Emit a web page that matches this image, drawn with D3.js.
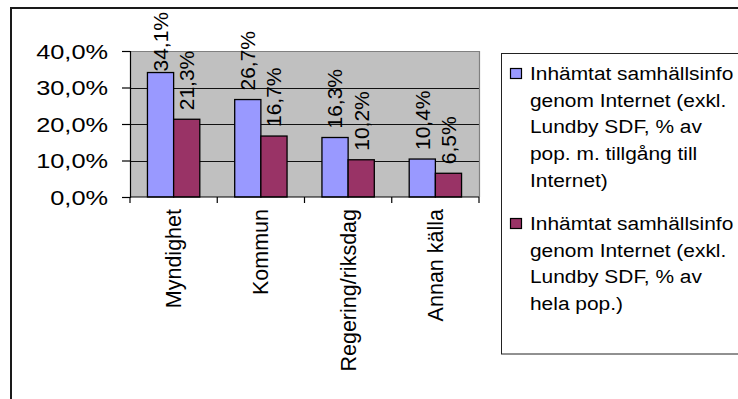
<!DOCTYPE html>
<html>
<head>
<meta charset="utf-8">
<script src="https://cdn.jsdelivr.net/npm/d3@7"></script>
<style>
  html, body { margin: 0; padding: 0; background: #fff; }
  svg { display: block; font-family: "Liberation Sans", Arial, sans-serif; }
</style>
</head>
<body>
<svg id="chart" width="738" height="399"></svg>
<script>
// Källor för samhällsinformation via Internet
const categories = ["Myndighet", "Kommun", "Regering/riksdag", "Annan källa"];
const seriesKeys = ["tillgang", "hela"];
const tillgangValues = [0.341, 0.267, 0.163, 0.104];   // % av pop. m. tillgång till Internet
const helaValues = [0.213, 0.167, 0.102, 0.065];       // % av hela pop.
const seriesColors = ["#9999FF", "#993366"];
const yTicks = [0, 0.1, 0.2, 0.3, 0.4];
const legendLines = [
  ["Inhämtat samhällsinfo", "genom Internet (exkl.", "Lundby SDF, % av", "pop. m. tillgång till", "Internet)"],
  ["Inhämtat samhällsinfo", "genom Internet (exkl.", "Lundby SDF, % av", "hela pop.)"]
];

const seriesValues = [tillgangValues, helaValues];
const sv = d3.formatLocale({ decimal: ",", thousands: " ", grouping: [3], currency: ["", " kr"] });
const pct = sv.format(".1%");

const svg = d3.select("#chart");

// outer chart frame
svg.append("rect")
  .attr("x", 11).attr("y", 8).attr("width", 800).attr("height", 500)
  .attr("fill", "#fff").attr("stroke", "#1a1a1a").attr("stroke-width", 2);

const plot = { left: 130, right: 479, top: 51, bottom: 197 };

const x0 = d3.scaleBand().domain(categories).range([plot.left, plot.right]).padding(0);
const bw = x0.bandwidth();
const x1 = d3.scaleBand().domain(seriesKeys).range([bw * 0.2, bw * 0.8]).padding(0);
const y = d3.scaleLinear().domain([0, 0.4]).range([plot.bottom, plot.top]);

// plot area background
svg.append("rect")
  .attr("x", plot.left).attr("y", plot.top)
  .attr("width", plot.right - plot.left).attr("height", plot.bottom - plot.top)
  .attr("fill", "#C0C0C0");

// horizontal gridlines
svg.append("g").selectAll("line")
  .data(yTicks.filter(t => t > 0 && t < 0.4))
  .join("line")
  .attr("x1", plot.left).attr("x2", plot.right)
  .attr("y1", d => Math.round(y(d)) + 0.5).attr("y2", d => Math.round(y(d)) + 0.5)
  .attr("stroke", "#111").attr("stroke-width", 1);

// plot frame (top / right)
svg.append("path")
  .attr("d", `M${plot.left},${plot.top + 0.5}H${plot.right + 0.5}V${plot.bottom}`)
  .attr("fill", "none").attr("stroke", "#808080").attr("stroke-width", 1.2);

// bars
const groups = svg.append("g").selectAll("g")
  .data(categories)
  .join("g")
  .attr("transform", d => `translate(${x0(d)},0)`);

groups.selectAll("rect")
  .data((d, i) => seriesKeys.map((k, s) => ({ key: k, s, v: seriesValues[s][i] })))
  .join("rect")
  .attr("x", d => x1(d.key))
  .attr("width", x1.bandwidth())
  .attr("y", d => y(d.v))
  .attr("height", d => y(0) - y(d.v))
  .attr("fill", d => seriesColors[d.s])
  .attr("stroke", "#000").attr("stroke-width", 1.3);

// value labels, rotated, above each bar
groups.selectAll("text.val")
  .data((d, i) => seriesKeys.map((k, s) => ({ key: k, s, v: seriesValues[s][i] })))
  .join("text")
  .attr("class", "val")
  .attr("font-size", 21)
  .attr("fill", "#000")
  .attr("dy", "0.35em")
  .text(d => pct(d.v))
  .each(function (d) {
    const len = this.getComputedTextLength();
    const cx = x1(d.key) + x1.bandwidth() / 2;
    const start = Math.max(y(d.v) - 9, 12 + len);
    d3.select(this).attr("transform", `translate(${cx},${start}) rotate(-90)`);
  });

// y axis
const yAxis = svg.append("g")
  .attr("transform", `translate(${plot.left},0)`)
  .call(d3.axisLeft(y).tickValues(yTicks).tickFormat(pct).tickSize(8).tickPadding(14));
yAxis.select(".domain").attr("stroke", "#000").attr("stroke-width", 1.2);
yAxis.selectAll(".tick line").attr("stroke", "#000").attr("stroke-width", 1.2);
yAxis.selectAll(".tick text")
  .attr("x", 0).attr("dy", "0.36em")
  .attr("transform", "translate(-22,0) scale(1.23,1)")
  .attr("font-size", 20.6).attr("font-family", "Liberation Sans, Arial, sans-serif")
  .attr("fill", "#000");

// x axis with ticks at category boundaries
const xAxis = svg.append("g").attr("transform", `translate(0,${plot.bottom})`);
xAxis.append("line")
  .attr("x1", plot.left).attr("x2", plot.right)
  .attr("stroke", "#000").attr("stroke-width", 1.2);
xAxis.selectAll("line.tk")
  .data(categories.map(c => x0(c)).concat([plot.right]))
  .join("line")
  .attr("class", "tk")
  .attr("x1", d => d).attr("x2", d => d)
  .attr("y1", 0).attr("y2", 6)
  .attr("stroke", "#000").attr("stroke-width", 1.2);
xAxis.selectAll("text")
  .data(categories)
  .join("text")
  .attr("font-size", 21.5)
  .attr("text-anchor", "end")
  .attr("dy", "0.35em")
  .attr("fill", "#000")
  .attr("transform", d => `translate(${x0(d) + bw / 2},12) rotate(-90)`)
  .text(d => d);

// legend
const legend = svg.append("g");
legend.append("rect")
  .attr("x", 501.5).attr("y", 53.5).attr("width", 300).attr("height", 300.5)
  .attr("fill", "#fff").attr("stroke", "#222").attr("stroke-width", 1);

const entryTop = [80, 230];
const lineH = 26.7;
legendLines.forEach((lines, s) => {
  legend.append("rect")
    .attr("x", 510.5).attr("y", entryTop[s] - 11.5)
    .attr("width", 11).attr("height", 10)
    .attr("fill", seriesColors[s]).attr("stroke", "#000").attr("stroke-width", 1.2);
  const t = legend.append("g")
    .attr("transform", `translate(530,${entryTop[s]}) scale(1.1,1)`);
  t.selectAll("text")
    .data(lines)
    .join("text")
    .attr("x", 0).attr("y", (d, i) => i * lineH)
    .attr("font-size", 19)
    .attr("fill", "#000")
    .text(d => d);
});
</script>
</body>
</html>
